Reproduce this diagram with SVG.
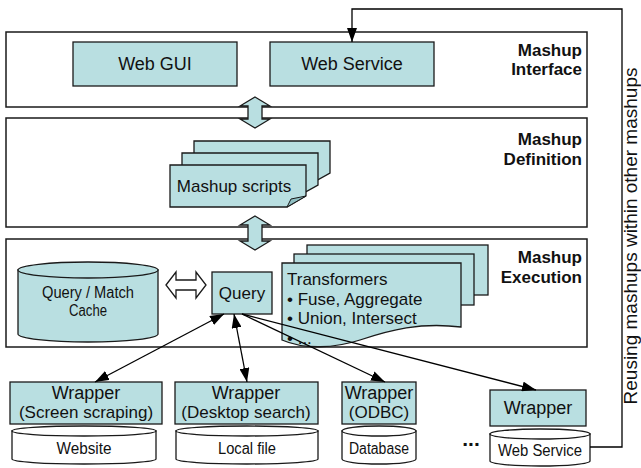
<svg xmlns="http://www.w3.org/2000/svg" width="641" height="468" viewBox="0 0 641 468">
<defs>
<style>
.layer{fill:none;stroke:#1a1a1a;stroke-width:1.5}
.teal{fill:#b9dfe1;stroke:#1a1a1a;stroke-width:1.3}
.wh{fill:#fff;stroke:#1a1a1a;stroke-width:1.3}
.fold{fill:#8fbfc2;stroke:#1a1a1a;stroke-width:1}
.conn{fill:none;stroke:#000;stroke-width:1.3}
text{font-family:"Liberation Sans",Arial,sans-serif;fill:#111}
.lbl{font-size:17px;font-weight:bold;text-anchor:end}
.c{text-anchor:middle}
.f18{font-size:18px}
.f17{font-size:17px}
.f16{font-size:16px}
</style>
<marker id="ah" viewBox="0 0 14 10" refX="14" refY="5" markerWidth="14" markerHeight="10" markerUnits="userSpaceOnUse" orient="auto-start-reverse"><path d="M0,0 L14,5 L0,10 z" fill="#000"/></marker>
</defs>
<rect width="641" height="468" fill="#fff"/>

<!-- interface layer children -->
<g id="web-gui"><rect class="teal" x="73" y="42" width="164" height="44"/><text class="c f18" x="155" y="70">Web GUI</text></g>
<g id="web-service"><rect class="teal" x="270" y="42" width="164" height="44"/><text class="c f18" x="352" y="70">Web Service</text></g>

<!-- definition layer children -->
<g id="mashup-scripts">
<path class="teal" d="M194,141 H330 V173 L312,183 H194 Z"/>
<path class="teal" d="M182,153 H318 V185 L300,195 H182 Z"/>
<path class="teal" d="M170,165 H306 V196 L287,207 H170 Z"/>
<path class="fold" d="M287,207 L291,199 L306,196 Z"/>
<text class="c f17" x="234" y="192">Mashup scripts</text>
</g>

<!-- execution layer children -->
<g id="query-match-cache">
<path class="teal" d="M18,270 V334 A70,8 0 0 0 158,334 V270 Z"/>
<ellipse class="teal" cx="88" cy="270" rx="70" ry="8"/>
<text class="c f16" x="88" y="298" textLength="92" lengthAdjust="spacingAndGlyphs">Query / Match</text>
<text class="c f16" x="88" y="316" textLength="38" lengthAdjust="spacingAndGlyphs">Cache</text>
</g>
<g id="query"><rect class="teal" x="212" y="272" width="60" height="42"/><text class="c f17" x="242" y="299">Query</text></g>
<g id="transformers">
<rect class="teal" x="307" y="245" width="181" height="50"/>
<rect class="teal" x="294" y="254" width="180" height="51"/>
<path class="teal" d="M282,263 H461 V327 C420,322 390,330 360,340 C335,348 305,350 282,340 Z"/>
<text class="f17" x="287" y="285">Transformers</text>
<text class="f17" x="287" y="304.5">• Fuse, Aggregate</text>
<text class="f17" x="287" y="324">• Union, Intersect</text>
<text class="f17" x="287" y="343.5">• ...</text>
</g>

<!-- layers -->
<g id="mashup-interface"><rect class="layer" x="6" y="32" width="581" height="75"/><text class="lbl" x="582" y="56">Mashup</text><text class="lbl" x="582" y="75">Interface</text></g>
<g id="mashup-definition"><rect class="layer" x="6" y="118" width="581" height="109"/><text class="lbl" x="582" y="145">Mashup</text><text class="lbl" x="582" y="165">Definition</text></g>
<g id="mashup-execution"><rect class="layer" x="6" y="239" width="581" height="108"/><text class="lbl" x="582" y="263">Mashup</text><text class="lbl" x="582" y="283">Execution</text></g>

<!-- bottom row -->
<g id="wrapper-screen"><rect class="teal" x="10" y="382" width="152" height="42"/><text class="c f18" x="86" y="399">Wrapper</text><text class="c f17" x="86" y="418">(Screen scraping)</text></g>
<g id="website">
<path class="wh" d="M12,431 V459 A72,5 0 0 0 156,459 V431 Z"/><ellipse class="wh" cx="84" cy="431" rx="72" ry="5"/>
<text class="c f16" x="84" y="454" textLength="55" lengthAdjust="spacingAndGlyphs">Website</text></g>
<g id="wrapper-desktop"><rect class="teal" x="175" y="382" width="143" height="42"/><text class="c f18" x="246" y="399">Wrapper</text><text class="c f17" x="246" y="418">(Desktop search)</text></g>
<g id="local-file">
<path class="wh" d="M176,431 V459 A71,5 0 0 0 318,459 V431 Z"/><ellipse class="wh" cx="247" cy="431" rx="71" ry="5"/>
<text class="c f16" x="247" y="454" textLength="58" lengthAdjust="spacingAndGlyphs">Local file</text></g>
<g id="wrapper-odbc"><rect class="teal" x="342" y="382" width="74" height="42"/><text class="c f18" x="379" y="399">Wrapper</text><text class="c f17" x="379" y="418">(ODBC)</text></g>
<g id="database">
<path class="wh" d="M342,431 V459 A37,5 0 0 0 416,459 V431 Z"/><ellipse class="wh" cx="379" cy="431" rx="37" ry="5"/>
<text class="c f16" x="379" y="454" textLength="60" lengthAdjust="spacingAndGlyphs">Database</text></g>
<g id="ellipsis"><text class="c" x="471" y="446" style="font-size:21px;font-weight:bold">...</text></g>
<g id="wrapper-ws"><rect class="teal" x="490" y="390" width="96" height="36"/><text class="c f18" x="538" y="414">Wrapper</text></g>
<g id="web-service-source">
<path class="wh" d="M490,434 V461 A50,5 0 0 0 590,461 V434 Z"/><ellipse class="wh" cx="540" cy="434" rx="50" ry="5"/>
<text class="c f16" x="540" y="456" textLength="84" lengthAdjust="spacingAndGlyphs">Web Service</text></g>

<g id="reuse-label"><text class="c" style="font-size:19px" transform="translate(637,236) rotate(-90)">Reusing mashups within other mashups</text></g>

<!-- connectors -->
<g id="connectors">
<polygon class="teal" points="255,97 270,106 262,106 262,119 270,119 255,128 240,119 248,119 248,106 240,106"/>
<polygon class="teal" points="255,216 270,225 262,225 262,241 270,241 255,250 240,241 248,241 248,225 240,225"/>
<polygon class="wh" points="166,285 176,272 176,280 196,280 196,272 206,285 196,298 196,290 176,290 176,298"/>
<polyline class="conn" points="590,447 622,447 622,9 352,9 352,42" marker-end="url(#ah)"/>
<line class="conn" x1="224" y1="314" x2="95" y2="382" marker-start="url(#ah)" marker-end="url(#ah)"/>
<line class="conn" x1="234" y1="314" x2="247" y2="382" marker-start="url(#ah)" marker-end="url(#ah)"/>
<line class="conn" x1="242" y1="314" x2="385" y2="382" marker-end="url(#ah)"/>
<line class="conn" x1="242" y1="314" x2="536" y2="390" marker-end="url(#ah)"/>
</g>
</svg>
